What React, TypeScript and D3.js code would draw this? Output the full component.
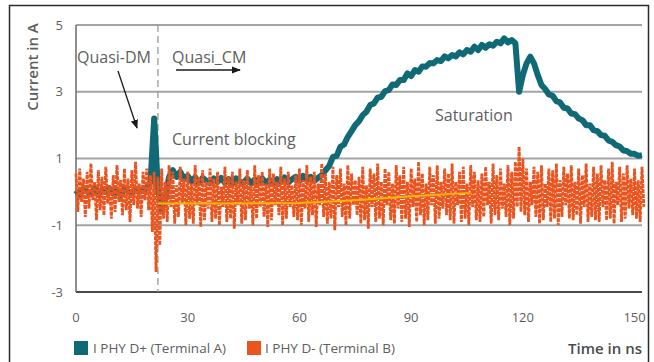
import React from "react";
import * as d3 from "d3";

const xTicks = [0, 30, 60, 90, 120, 150];
const yTicks = [5, 3, 1, -1, -3];

// Teal series (I PHY D+), one value per ns, 0..152
const tealValues = [
  0.05, -0.1, 0.1, 0.0, -0.05, 0.1, -0.1, 0.05, 0.0, 0.1,
  -0.05, 0.05, -0.1, 0.1, 0.0, -0.05, 0.1, 0.0, 0.05, 0.1,
  0.3, 2.2, 0.1, -0.55, -0.2, 0.45, 0.65, 0.45, 0.6, 0.38,
  0.48, 0.32, 0.44, 0.27, 0.42, 0.33, 0.26, 0.4, 0.3, 0.42,
  0.27, 0.38, 0.25, 0.4, 0.3, 0.27, 0.4, 0.25, 0.37, 0.28,
  0.4, 0.27, 0.36, 0.25, 0.38, 0.3, 0.43, 0.28, 0.38, 0.45,
  0.33, 0.48, 0.35, 0.45, 0.33, 0.42, 0.5, 0.65, 0.78, 1.05,
  1.08, 1.35, 1.42, 1.65, 1.82, 2.0, 2.12, 2.3, 2.4, 2.6,
  2.65, 2.82, 2.85, 3.02, 3.05, 3.22, 3.2, 3.35, 3.35, 3.55,
  3.47, 3.65, 3.6, 3.76, 3.75, 3.86, 3.85, 3.95, 3.92, 4.06,
  4.0, 4.1, 4.06, 4.18, 4.12, 4.25, 4.2, 4.35, 4.25, 4.4,
  4.32, 4.42, 4.38, 4.5, 4.45, 4.6, 4.48, 4.55, 4.45, 3.0,
  3.5, 3.85, 4.05, 3.85, 3.5, 3.2, 3.08, 2.92, 2.88, 2.72,
  2.68, 2.52, 2.5, 2.35, 2.33, 2.2, 2.15, 2.0, 2.0, 1.85,
  1.82, 1.7, 1.68, 1.54, 1.5, 1.4, 1.36, 1.24, 1.22, 1.14,
  1.14, 1.08, 1.1,
];

// Orange series (I PHY D-), noise envelope per ns: upper and lower excursions
const orangeHi = [
  0.55, 0.7, 0.4, 0.6, 0.85, 0.3, 0.65, 0.45, 0.75, 0.2,
  0.5, 0.8, 0.35, 0.7, 0.4, 0.65, 0.9, 0.25, 0.6, 0.7,
  0.5, 0.6, 0.45, 0.7, 0.3, 0.8, 0.6, 0.2, 0.75, 0.4,
  0.6, 0.25, 0.8, 0.45, 0.65, 0.3, 0.7, 0.4, 0.6, 0.15,
  0.75, 0.45, 0.6, 0.3, 0.7, 0.35, 0.65, 0.2, 0.8, 0.5,
  0.6, 0.25, 0.7, 0.55, 0.3, 0.75, 0.4, 0.6, 0.2, 0.5,
  0.7, 0.35, 0.8, 0.45, 0.6, 0.25, 0.85, 0.55, 0.3, 0.75,
  0.5, 0.7, 0.25, 0.8, 0.55, 0.35, 0.45, 0.75, 0.2, 0.7,
  0.55, 0.85, 0.3, 0.7, 0.6, 0.25, 0.8, 0.5, 0.75, 0.3,
  0.7, 0.4, 0.9, 0.55, 0.25, 0.75, 0.5, 0.8, 0.3, 0.7,
  0.55, 0.85, 0.3, 0.6, 0.75, 0.25, 0.8, 0.6, 0.35, 0.55,
  0.75, 0.3, 0.85, 0.5, 0.7, 0.25, 0.8, 0.6, 0.9, 1.35,
  1.0, 0.7, 0.3, 0.75, 0.6, 0.8, 0.25, 0.7, 0.65, 0.85,
  0.35, 0.75, 0.55, 0.8, 0.3, 0.7, 0.5, 0.85, 0.25, 0.75,
  0.55, 0.8, 0.35, 0.7, 0.9, 0.3, 0.75, 0.55, 0.8, 0.4,
  0.7, 0.35, 0.75,
];
const orangeLo = [
  -0.6, -0.3, -0.75, -0.5, -0.25, -0.85, -0.55, -0.7, -0.35, -0.8,
  -0.6, -0.3, -0.7, -0.55, -0.9, -0.4, -0.5, -0.75, -0.25, -0.55,
  -1.2, -2.4, -1.6, -0.8, -0.9, -0.45, -0.95, -0.75, -0.35, -1.0,
  -0.8, -0.95, -0.4, -1.05, -0.85, -0.5, -0.9, -0.8, -1.0, -0.45,
  -0.9, -0.8, -1.1, -0.4, -0.95, -0.85, -0.5, -1.0, -0.8, -0.45,
  -0.75, -1.05, -0.85, -0.4, -0.7, -1.0, -0.8, -0.45, -0.75, -0.85,
  -1.0, -0.5, -0.9, -0.7, -1.05, -0.4, -0.75, -0.95, -0.8, -1.15,
  -0.45, -0.75, -1.0, -0.8, -0.4, -0.7, -0.95, -0.85, -1.1, -0.45,
  -0.9, -0.8, -1.0, -0.4, -0.85, -0.95, -0.5, -0.9, -0.8, -1.05,
  -0.45, -0.9, -0.7, -1.0, -0.85, -0.4, -0.95, -0.8, -0.5, -0.7,
  -0.85, -0.95, -0.4, -0.9, -0.8, -1.0, -0.45, -0.85, -0.9, -0.75,
  -0.4, -0.95, -0.7, -0.85, -0.5, -0.75, -1.0, -0.8, -0.45, -0.6,
  -0.7, -0.9, -0.4, -0.75, -0.95, -0.85, -0.45, -0.9, -0.8, -1.0,
  -0.75, -0.4, -0.8, -0.85, -0.7, -0.95, -0.45, -0.9, -0.75, -0.85,
  -0.9, -0.45, -0.85, -0.8, -0.95, -0.4, -0.9, -0.8, -0.5, -0.7,
  -0.8, -0.9, -0.45,
];

// Yellow trend line through the D- signal
const trendT = [22, 40, 60, 66, 76, 90, 106];
const trendV = [-0.35, -0.35, -0.33, -0.3, -0.24, -0.13, -0.03];

const boundaryT = 22;

const W = 654;
const H = 362;
const M = { left: 76, right: 642, top: 25, bottom: 292 };

const TEAL = "#0f6a76";
const ORANGE = "#e9541f";
const YELLOW = "#f7b400";
const GRID = "#a3a3a3";
const TXT = "#5e5e5e";
const FONT = "'Open Sans', 'Noto Sans', sans-serif";

export default function App() {
  const x = d3.scaleLinear().domain([0, 152]).range([M.left, M.right]);
  const y = d3.scaleLinear().domain([-3, 5]).range([M.bottom, M.top]);

  const line = d3
    .line<[number, number]>()
    .x((d) => x(d[0]))
    .y((d) => y(d[1]));

  const tealPts: [number, number][] = tealValues.map((v, i) => [i, v]);
  const orangePts: [number, number][] = [];
  orangeHi.forEach((h, i) => {
    orangePts.push([i, h]);
    orangePts.push([i + 0.5, orangeLo[i]]);
  });
  const trendPts: [number, number][] = trendT.map((t, i) => [t, trendV[i]]);

  return (
    <svg
      width={W}
      height={H}
      style={{ position: "absolute", left: 0, top: 0, background: "#fff" }}
      fontFamily={FONT}
    >
      <defs>
        <marker id="ah" viewBox="0 0 10 10" refX="9" refY="5" markerWidth="7" markerHeight="7" orient="auto-start-reverse">
          <path d="M0,1 L10,5 L0,9 z" fill="#1a1a1a" />
        </marker>
      </defs>
      {/* outer frame */}
      <path d={`M9.5,${H} V5.5 H648.5 V${H}`} fill="none" stroke="#2a2a2a" strokeWidth={1.5} />

      {/* grid */}
      {yTicks.filter((t) => t !== -3).map((t) => (
        <line key={t} x1={M.left} x2={M.right} y1={y(t)} y2={y(t)} stroke={GRID} strokeWidth={2} />
      ))}
      <line x1={M.left} x2={M.right} y1={y(-3)} y2={y(-3)} stroke="#4a4a4a" strokeWidth={2} />
      <line x1={M.left} x2={M.left} y1={y(5)} y2={y(-3)} stroke="#6a6a6a" strokeWidth={1.5} />

      {/* boundary dashed line */}
      <line x1={x(boundaryT)} x2={x(boundaryT)} y1={y(5)} y2={y(-3)} stroke="#9a9a9a" strokeWidth={1.3} strokeDasharray="7,4" />

      {/* series */}
      <path d={line(tealPts) || ""} fill="none" stroke={TEAL} strokeWidth={6} strokeLinejoin="round" />
      <path d={line(orangePts) || ""} fill="none" stroke={ORANGE} strokeWidth={2.8} strokeDasharray="4,1" />
      <path d={line(trendPts) || ""} fill="none" stroke={YELLOW} strokeWidth={2} />

      {/* y tick labels */}
      {yTicks.map((t) => (
        <text key={t} x={63} y={y(t)} dy="0.35em" textAnchor="end" fontSize={13} fill={TXT}>
          {t}
        </text>
      ))}
      {/* x tick labels */}
      {xTicks.map((t) => (
        <text key={t} x={x(t)} y={317} dy="0.35em" textAnchor="middle" fontSize={13} fill={TXT}>
          {t}
        </text>
      ))}

      {/* axis titles */}
      <text transform="translate(33,67) rotate(-90)" textAnchor="middle" dy="0.35em" fontSize={15} fontWeight={600} fill={TXT}>
        Current in A
      </text>
      <text x={642} y={349} dy="0.35em" textAnchor="end" fontSize={15} fontWeight={600} fill="#4a4a4a">
        Time in ns
      </text>

      {/* annotations */}
      <text x={77} y={63} fontSize={16} fill={TXT}>Quasi-DM</text>
      <text x={172} y={63} fontSize={16} fill={TXT}>Quasi_CM</text>
      <line x1={176} y1={70} x2={240} y2={70} stroke="#1a1a1a" strokeWidth={1.3} markerEnd="url(#ah)" />
      <line x1={118} y1={71} x2={137} y2={128} stroke="#1a1a1a" strokeWidth={1.3} markerEnd="url(#ah)" />
      <text x={172} y={139} dy="0.35em" fontSize={16} fill={TXT}>Current blocking</text>
      <text x={435} y={115} dy="0.35em" fontSize={16} fill={TXT}>Saturation</text>

      {/* legend */}
      <rect x={74} y={341} width={14} height={14} fill={TEAL} />
      <text x={93} y={348} dy="0.35em" fontSize={13.5} fill={TXT}>I PHY D+ (Terminal A)</text>
      <rect x={247} y={341} width={14} height={14} fill={ORANGE} />
      <text x={265} y={348} dy="0.35em" fontSize={13.5} fill={TXT}>I PHY D- (Terminal B)</text>
    </svg>
  );
}
